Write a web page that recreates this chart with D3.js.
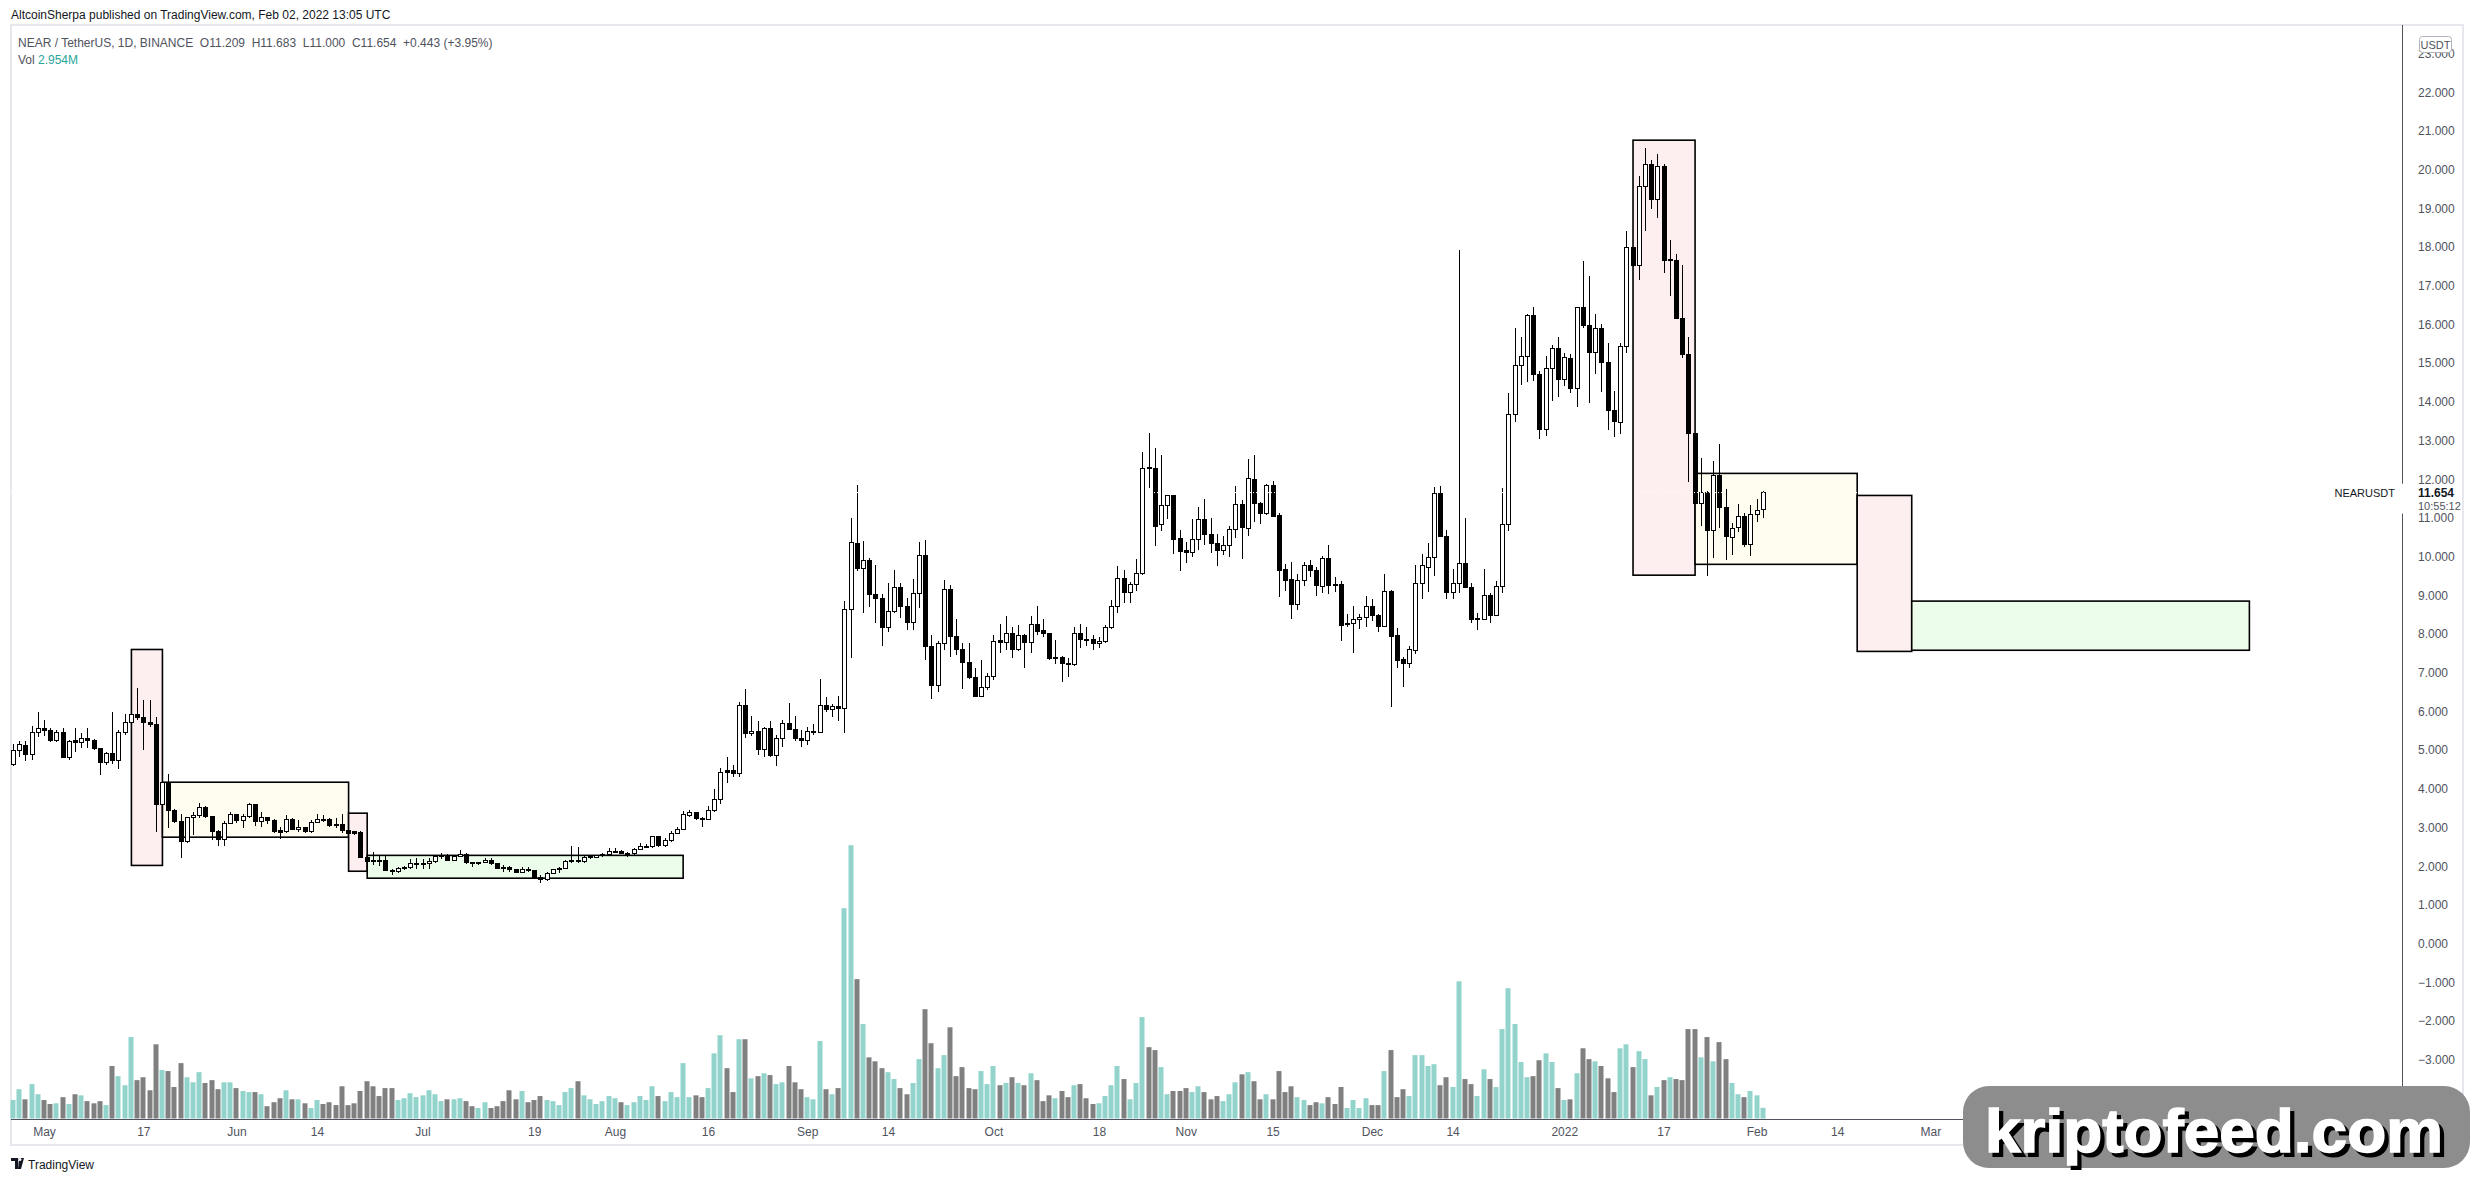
<!DOCTYPE html>
<html>
<head>
<meta charset="utf-8">
<script src="https://cdn.jsdelivr.net/npm/d3@7"></script>
<style>
  body { margin: 0; background: #fff; }
  text { font-family: "Liberation Sans", Arial, sans-serif; }
</style>
</head>
<body>
<div id="main"></div>
<script>
const ctx = {
    SVG_W: 2474,
    SVG_H: 1181,
    PLOT_L: 11,
    PLOT_R: 2402,
    AXIS_Y: 1119,
    FRAME_B: 1145,
    DAY_PX: 6.205,
};

// first daily candle, NEAR/USDT Binance
const startDate = "2021-04-26";

// daily candles [open, high, low, close]
const ohlc = [
  [4.64,5.17,4.60,5.00],[5.00,5.23,4.81,5.15],[5.12,5.23,4.73,4.89],[4.89,5.61,4.74,5.46],[5.46,5.98,5.35,5.55],
  [5.55,5.78,5.37,5.50],[5.50,5.56,5.20,5.24],[5.24,5.52,5.22,5.46],[5.46,5.56,4.81,4.81],[4.81,5.26,4.74,5.22],
  [5.24,5.56,4.96,5.19],[5.20,5.43,5.05,5.30],[5.30,5.56,5.05,5.24],[5.24,5.29,5.00,5.04],[5.04,5.06,4.36,4.68],
  [4.68,4.96,4.61,4.92],[4.92,5.98,4.64,4.73],[4.73,5.52,4.51,5.46],[5.46,5.92,5.40,5.72],[5.72,5.95,5.70,5.93],
  [5.93,6.60,5.78,5.84],[5.84,6.29,5.00,5.71],[5.72,6.29,5.60,5.67],[5.67,5.85,2.89,3.60],[3.60,4.18,3.55,4.16],
  [4.16,4.37,3.00,3.43],[3.43,3.49,3.12,3.15],[3.15,3.36,2.22,2.63],[2.63,3.28,2.61,3.26],[3.26,3.39,2.81,3.30],
  [3.30,3.64,3.24,3.52],[3.52,3.55,3.24,3.28],[3.28,3.30,2.68,2.89],[2.89,2.94,2.53,2.69],[2.69,3.17,2.52,3.11],
  [3.11,3.41,3.09,3.34],[3.34,3.36,3.11,3.19],[3.19,3.36,3.00,3.28],[3.28,3.64,3.24,3.60],[3.60,3.62,3.04,3.15],
  [3.15,3.41,3.02,3.26],[3.26,3.28,3.09,3.17],[3.19,3.21,2.87,2.89],[2.91,3.02,2.69,2.87],[2.89,3.32,2.85,3.21],
  [3.21,3.24,2.93,2.95],[2.95,3.19,2.89,3.00],[3.00,3.02,2.87,2.89],[2.89,3.19,2.87,3.13],[3.13,3.34,3.11,3.21],
  [3.21,3.32,3.15,3.19],[3.21,3.24,3.02,3.05],[3.08,3.24,2.98,3.05],[3.08,3.34,2.87,2.92],[2.92,2.94,2.85,2.85],
  [2.89,2.91,2.80,2.85],[2.87,2.92,2.20,2.23],[2.23,2.37,2.09,2.12],[2.15,2.37,2.03,2.14],[2.16,2.26,2.01,2.12],
  [2.16,2.26,1.87,1.89],[1.90,1.94,1.76,1.87],[1.87,1.99,1.82,1.94],[1.94,2.00,1.90,1.97],[1.97,2.18,1.92,2.07],
  [2.06,2.20,1.94,2.07],[2.07,2.19,1.92,2.08],[2.06,2.20,1.94,2.12],[2.12,2.26,2.09,2.25],[2.25,2.33,2.18,2.27],
  [2.27,2.31,2.14,2.16],[2.16,2.29,2.14,2.26],[2.26,2.42,2.25,2.31],[2.31,2.33,2.05,2.10],[2.10,2.12,1.99,2.06],
  [2.08,2.12,2.03,2.09],[2.09,2.20,2.07,2.16],[2.16,2.20,2.03,2.06],[2.06,2.09,1.92,1.95],[1.97,2.03,1.86,1.95],
  [1.97,2.00,1.86,1.92],[1.92,1.94,1.82,1.84],[1.84,1.97,1.82,1.92],[1.92,1.97,1.85,1.89],[1.89,1.90,1.67,1.69],
  [1.71,1.77,1.56,1.66],[1.66,1.86,1.63,1.82],[1.82,1.94,1.79,1.92],[1.92,1.97,1.83,1.94],[1.94,2.15,1.92,2.12],
  [2.13,2.52,2.09,2.14],[2.16,2.50,2.07,2.13],[2.12,2.29,2.09,2.23],[2.23,2.29,2.18,2.24],[2.22,2.29,2.20,2.27],
  [2.27,2.35,2.23,2.30],[2.30,2.46,2.28,2.38],[2.37,2.47,2.33,2.38],[2.39,2.42,2.31,2.33],[2.33,2.37,2.25,2.34],
  [2.33,2.48,2.29,2.44],[2.44,2.59,2.42,2.50],[2.50,2.57,2.46,2.51],[2.51,2.78,2.48,2.76],[2.76,2.78,2.50,2.53],
  [2.53,2.72,2.50,2.66],[2.66,2.92,2.63,2.85],[2.85,3.02,2.83,2.95],[2.95,3.43,2.93,3.34],[3.32,3.45,3.28,3.39],
  [3.39,3.41,3.20,3.22],[3.24,3.26,3.02,3.21],[3.21,3.55,3.19,3.45],[3.45,3.99,3.41,3.73],[3.73,4.55,3.62,4.43],
  [4.46,4.83,4.16,4.43],[4.48,4.61,4.31,4.40],[4.40,6.23,4.31,6.15],[6.15,6.58,5.32,5.43],[5.43,5.88,5.37,5.47],
  [5.47,5.75,4.87,5.02],[5.02,5.59,4.81,5.56],[5.56,5.75,4.81,4.86],[4.86,5.39,4.60,5.30],[5.30,5.78,5.07,5.69],
  [5.69,6.22,5.52,5.54],[5.54,5.88,5.24,5.30],[5.30,5.52,5.09,5.24],[5.24,5.59,5.13,5.47],[5.45,5.67,5.39,5.49],
  [5.45,6.85,5.43,6.15],[6.15,6.37,5.99,6.05],[6.05,6.18,5.86,6.12],[6.12,6.41,5.74,6.08],[6.08,8.84,5.45,8.64],
  [8.64,11.01,7.37,10.36],[10.34,11.85,9.63,9.70],[9.70,10.40,8.55,9.90],[9.90,9.96,8.71,9.02],[9.02,9.78,8.29,8.92],
  [8.92,9.03,7.70,8.17],[8.17,9.31,8.06,8.58],[8.58,9.65,8.53,9.20],[9.20,9.33,8.41,8.70],[8.70,8.92,8.10,8.30],
  [8.30,9.42,8.10,9.05],[9.05,10.37,8.66,10.03],[10.03,10.42,7.33,7.67],[7.67,7.97,6.32,6.67],[6.67,7.82,6.51,7.76],
  [7.76,9.40,7.59,9.15],[9.15,9.27,7.41,7.93],[7.93,8.40,7.46,7.60],[7.59,7.76,6.59,7.26],[7.27,7.76,6.85,6.87],
  [6.88,7.11,6.36,6.38],[6.38,7.33,6.36,6.62],[6.62,6.98,6.55,6.90],[6.90,7.97,6.81,7.81],[7.82,8.26,7.52,7.79],
  [7.79,8.47,7.59,8.02],[8.02,8.17,7.39,7.60],[7.60,8.23,7.57,7.97],[7.97,8.00,7.13,7.78],[7.78,8.47,7.50,8.25],
  [8.25,8.72,7.97,8.06],[8.08,8.40,7.91,8.02],[8.02,8.03,7.33,7.37],[7.36,7.85,7.22,7.40],[7.40,7.42,6.77,7.24],
  [7.24,7.37,6.90,7.22],[7.22,8.19,7.18,8.02],[8.02,8.26,7.63,7.85],[7.85,8.17,7.69,7.84],[7.85,7.97,7.59,7.76],
  [7.76,7.91,7.63,7.81],[7.81,8.23,7.76,8.17],[8.17,8.88,8.12,8.71],[8.71,9.76,8.55,9.44],[9.44,9.65,8.81,9.07],
  [9.07,9.35,8.81,9.29],[9.29,9.93,9.12,9.57],[9.57,12.69,9.52,12.28],[12.30,13.19,11.76,12.27],[12.28,12.80,10.27,10.79],
  [10.83,12.63,10.65,11.33],[11.33,11.59,10.97,11.57],[11.57,11.59,10.08,10.45],[10.47,10.69,9.64,10.13],[10.15,10.39,9.83,10.11],
  [10.11,10.97,10.00,10.43],[10.43,11.27,10.17,10.95],[10.95,11.49,10.30,10.56],[10.58,10.99,10.10,10.34],[10.34,10.58,9.77,10.15],
  [10.15,10.53,10.04,10.29],[10.29,10.79,10.00,10.69],[10.69,11.82,10.47,11.35],[11.35,11.46,9.93,10.75],[10.73,12.52,10.53,12.02],
  [12.00,12.63,10.90,11.38],[11.38,11.42,10.83,11.12],[11.12,11.87,11.08,11.84],[11.84,11.95,11.02,11.03],[11.05,11.12,8.96,9.64],
  [9.66,9.81,9.12,9.38],[9.40,9.85,8.39,8.77],[8.77,9.55,8.62,9.38],[9.38,9.86,9.25,9.77],[9.77,9.91,9.48,9.64],
  [9.64,9.72,8.99,9.25],[9.22,10.01,9.07,9.95],[9.95,10.30,9.03,9.25],[9.27,9.46,9.09,9.26],[9.27,9.37,7.83,8.23],
  [8.24,8.51,8.17,8.27],[8.27,8.72,7.52,8.38],[8.38,8.52,8.12,8.42],[8.42,8.98,8.19,8.72],[8.72,8.90,8.34,8.47],
  [8.49,8.52,8.06,8.19],[8.19,9.55,8.19,9.11],[9.11,9.14,6.12,7.93],[7.95,8.15,7.11,7.31],[7.33,7.41,6.64,7.24],
  [7.24,7.69,7.11,7.59],[7.57,9.78,7.48,9.31],[9.31,10.07,8.90,9.76],[9.72,10.36,9.09,9.97],[9.97,11.81,9.51,11.62],
  [11.62,11.82,10.52,10.53],[10.53,10.69,8.90,9.07],[9.07,9.67,8.90,9.31],[9.31,17.92,9.05,9.83],[9.83,10.99,9.20,9.20],
  [9.21,9.31,8.28,8.38],[8.38,8.53,8.10,8.39],[8.38,9.67,8.35,8.99],[8.99,9.07,8.28,8.47],[8.47,9.37,8.47,9.24],
  [9.24,11.78,9.07,10.82],[10.82,14.24,10.67,13.68],[13.68,15.90,13.49,14.93],[14.93,15.67,14.43,15.18],[15.18,16.27,14.50,16.22],
  [16.24,16.44,14.55,14.71],[14.71,14.80,13.03,13.29],[13.29,15.19,13.12,14.86],[14.86,15.48,14.03,15.38],[15.38,15.67,14.13,14.58],
  [14.58,15.27,14.42,15.15],[15.12,15.24,14.22,14.35],[14.35,16.44,13.87,16.44],[16.44,17.64,15.90,15.97],[15.98,17.25,13.98,15.27],
  [15.27,16.27,14.72,15.90],[15.90,16.01,14.26,15.01],[15.02,15.51,13.27,13.77],[13.77,14.28,13.08,13.49],[13.46,15.51,13.17,15.44],
  [15.44,18.41,15.27,17.99],[17.99,17.99,17.49,17.52],[17.52,19.83,17.15,19.56],[19.56,20.55,18.42,20.14],[20.14,20.25,18.97,19.23],
  [19.23,20.40,18.74,20.09],[20.09,20.14,17.34,17.65],[17.65,18.18,16.74,17.67],[17.66,17.82,16.14,16.16],[16.16,17.53,15.14,15.23],
  [15.23,15.67,11.92,13.19],[13.19,13.19,11.38,11.38],[11.38,12.54,10.80,11.65],[11.65,11.70,9.51,10.67],[10.67,12.47,9.97,12.09],
  [12.09,12.91,10.73,11.27],[11.27,11.74,9.91,10.52],[10.50,10.86,10.04,10.73],[10.76,11.36,10.64,11.03],[11.03,11.12,10.26,10.30],
  [10.30,11.33,10.02,11.09],[11.09,11.50,10.90,11.18],[11.209,11.683,11.000,11.654]
];

// daily volume, millions of NEAR
const volumes = [
  5.1,8.1,5.3,9.5,6.7,5.1,4.0,4.2,5.9,4.0, 6.7,6.4,4.8,4.2,4.8,3.7,14.5,11.7,9.2,22.5,
  10.6,11.4,7.8,20.5,13.4,13.1,8.7,15.3,11.4,10.0, 12.8,9.8,10.6,8.1,10.0,10.0,8.4,7.6,7.3,7.3,
  6.7,3.4,4.5,5.6,7.8,5.3,5.3,4.2,2.9,5.1, 4.0,4.5,3.7,8.9,3.7,4.2,7.6,10.3,8.9,6.2,
  8.4,8.4,5.1,5.6,7.0,5.9,6.4,7.8,6.7,4.8, 5.3,5.3,5.6,4.8,3.4,2.9,4.5,2.9,3.4,4.8,
  7.8,5.3,7.6,4.5,5.1,6.2,5.1,4.8,3.7,7.3, 8.4,10.3,6.4,5.3,4.0,4.8,6.2,5.6,4.5,3.7,
  4.5,6.2,5.1,8.9,6.2,4.8,7.3,5.9,15.3,5.9, 6.4,5.9,8.4,18.0,23.0,13.9,7.3,21.9,21.9,11.1,
  11.7,12.5,12.0,9.5,10.0,14.5,10.0,8.1,5.9,5.3, 21.4,8.1,6.7,8.4,58.1,75.5,38.5,26.1,16.9,15.8,
  13.9,12.8,10.9,8.4,6.7,9.8,16.4,30.2,20.8,13.9, 17.5,25.2,11.7,14.2,8.4,8.1,13.1,9.5,14.5,9.2,
  9.8,11.4,9.8,9.2,12.5,10.6,4.8,6.4,5.6,7.6, 5.9,9.2,9.5,5.6,4.0,4.2,6.2,9.2,14.5,10.9,
  5.3,9.8,28.0,19.7,18.9,14.2,6.7,7.6,7.6,8.4, 7.3,8.9,7.3,5.3,6.2,4.8,6.7,10.0,12.2,12.8,
  10.3,5.3,6.7,5.3,13.1,7.3,8.9,5.9,5.1,3.7, 4.5,4.2,5.9,4.0,8.7,2.9,5.1,2.9,5.6,3.7,
  3.7,13.1,18.9,5.9,8.1,6.2,17.5,17.5,14.5,15.0, 9.2,11.4,8.7,37.9,10.9,9.5,6.2,13.6,10.9,8.7,
  24.7,36.0,26.1,15.6,11.4,11.7,16.1,18.0,15.6,8.4, 5.1,5.3,12.5,19.4,16.4,15.8,14.5,11.1,7.3,19.4,
  20.5,14.2,18.6,16.4,6.4,8.7,10.6,11.4,10.9,10.6, 24.7,24.7,16.9,22.5,15.8,21.1,16.4,9.8,6.7,5.9,
  7.6,6.4,2.954
];

// price scale labels
const priceTicks = [23,22,21,20,19,18,17,16,15,14,13,12,11,10,9,8,7,6,5,4,3,2,1,0,-1,-2,-3,-4];

// time scale labels
const timeTicks = [
  ["2021-05-01","May"],["2021-05-17","17"],["2021-06-01","Jun"],["2021-06-14","14"],
  ["2021-07-01","Jul"],["2021-07-19","19"],["2021-08-01","Aug"],["2021-08-16","16"],
  ["2021-09-01","Sep"],["2021-09-14","14"],["2021-10-01","Oct"],["2021-10-18","18"],
  ["2021-11-01","Nov"],["2021-11-15","15"],["2021-12-01","Dec"],["2021-12-14","14"],
  ["2022-01-01","2022"],["2022-01-17","17"],["2022-02-01","Feb"],["2022-02-14","14"],
  ["2022-03-01","Mar"],["2022-04-01","Apr"],["2022-05-01","May"]
];

// drawn zones: [from, to, top price, bottom price, fill]
const zones = [
  ["2021-05-15T02:00","2021-05-20T02:00",7.60,2.02,"#fdeeef"],
  ["2021-05-20T02:00","2021-06-19T02:00",4.17,2.75,"#fffdf0"],
  ["2021-06-19T02:00","2021-06-22T02:00",3.37,1.87,"#fdeeef"],
  ["2021-06-22T02:00","2021-08-12T00:00",2.28,1.69,"#ecfdeb"],
  ["2022-01-12T02:00","2022-01-22T02:00",20.76,9.52,"#fdeeef"],
  ["2022-01-22T02:00","2022-02-17T05:00",12.15,9.80,"#fffdf0"],
  ["2022-02-17T05:00","2022-02-26T00:00",11.58,7.55,"#fdeeef"],
  ["2022-02-26T00:00","2022-04-21T10:00",8.85,7.58,"#ecfdeb"]
];

const lastPrice = 11.654;

function drawChart(svgEl) {
    const t0 = d3.utcParse("%Y-%m-%d")(startDate);
    const tEnd = d3.utcDay.offset(t0, 370);
    const parseT = d3.utcParse("%Y-%m-%dT%H:%M");
    const parseD = d3.utcParse("%Y-%m-%d");

    const x = d3.scaleUtc()
        .domain([t0, tEnd])
        .range([13, 13 + 370 * ctx.DAY_PX]);
    const y = d3.scaleLinear().domain([0, 23]).range([943.6, 53.5]);
    const yVol = d3.scaleLinear().domain([0, 80]).range([1118.5, 828.9]);

    const candles = ohlc.map((r, i) => ({
        date: d3.utcDay.offset(t0, i),
        o: r[0], h: r[1], l: r[2], c: r[3],
        v: volumes[i]
    }));

    // chart frame
    svgEl.append("rect")
        .attr("x", ctx.PLOT_L).attr("y", 25)
        .attr("width", 2463 - ctx.PLOT_L).attr("height", ctx.FRAME_B - 25)
        .attr("fill", "none").attr("stroke", "#e6e8ee").attr("stroke-width", 2);

    // zones
    svgEl.selectAll(".zone")
        .data(zones)
        .enter().append("rect")
        .attr("class", "zone")
        .attr("x", d => x(parseT(d[0])))
        .attr("y", d => y(d[2]))
        .attr("width", d => x(parseT(d[1])) - x(parseT(d[0])))
        .attr("height", d => y(d[3]) - y(d[2]))
        .attr("fill", d => d[4])
        .attr("stroke", "#000")
        .attr("stroke-width", 1.6);

    // volume
    svgEl.selectAll(".vol")
        .data(candles)
        .enter().append("rect")
        .attr("class", "vol")
        .attr("x", d => Math.round(x(d.date)) - 2.5)
        .attr("y", d => yVol(d.v))
        .attr("width", 5)
        .attr("height", d => yVol(0) - yVol(d.v))
        .attr("fill", d => d.c >= d.o ? "#92d3cc" : "#808080");

    // candles
    const g = svgEl.append("g").attr("shape-rendering", "crispEdges");
    g.selectAll(".wick")
        .data(candles)
        .enter().append("line")
        .attr("class", "wick")
        .attr("x1", d => Math.round(x(d.date)) + 0.5)
        .attr("x2", d => Math.round(x(d.date)) + 0.5)
        .attr("y1", d => y(d.h))
        .attr("y2", d => y(d.l))
        .attr("stroke", "#000");
    g.selectAll(".body")
        .data(candles)
        .enter().append("rect")
        .attr("class", "body")
        .attr("x", d => Math.round(x(d.date)) - 1.5)
        .attr("y", d => y(Math.max(d.o, d.c)))
        .attr("width", 4)
        .attr("height", d => Math.max(1, Math.abs(y(d.o) - y(d.c))))
        .attr("fill", d => d.c >= d.o ? "#fff" : "#000")
        .attr("stroke", "#000");

    // last price dotted line
    svgEl.append("line")
        .attr("x1", ctx.PLOT_L).attr("x2", ctx.PLOT_R)
        .attr("y1", y(lastPrice)).attr("y2", y(lastPrice))
        .attr("stroke", "#fff").attr("stroke-dasharray", "1,2");

    // price axis
    svgEl.append("line")
        .attr("x1", ctx.PLOT_R + 0.5).attr("x2", ctx.PLOT_R + 0.5)
        .attr("y1", 25).attr("y2", ctx.FRAME_B)
        .attr("stroke", "#50535e");
    const yAxis = d3.axisRight(y)
        .tickValues(priceTicks)
        .tickFormat(d3.format(".3f"))
        .tickSize(0).tickPadding(16);
    const ya = svgEl.append("g")
        .attr("transform", `translate(${ctx.PLOT_R},0)`)
        .call(yAxis);
    ya.select(".domain").remove();
    ya.selectAll("text")
        .attr("fill", "#50535e")
        .style("font-size", "12px")
        .style("font-family", "'Liberation Sans', Arial, sans-serif");

    // last price label
    const yl = y(lastPrice);
    svgEl.append("rect")
        .attr("x", 2340).attr("y", yl - 9)
        .attr("width", 68).attr("height", 30)
        .attr("fill", "#fff");
    svgEl.append("text")
        .attr("x", 2395).attr("y", yl + 4)
        .attr("text-anchor", "end")
        .attr("fill", "#131722").style("font-size", "11px")
        .text("NEARUSDT");
    svgEl.append("text")
        .attr("x", 2418).attr("y", yl + 4)
        .attr("fill", "#131722").style("font-size", "12px").style("font-weight", "bold")
        .text(d3.format(".3f")(lastPrice));
    svgEl.append("text")
        .attr("x", 2418).attr("y", yl + 17)
        .attr("fill", "#50535e").style("font-size", "11px")
        .text("10:55:12");

    // currency tag
    svgEl.append("rect")
        .attr("x", 2419.5).attr("y", 36.5)
        .attr("width", 32).attr("height", 16).attr("rx", 3)
        .attr("fill", "#fff").attr("stroke", "#b2b5be");
    svgEl.append("text")
        .attr("x", 2435.5).attr("y", 48.5)
        .attr("text-anchor", "middle")
        .attr("fill", "#50535e").style("font-size", "11px")
        .text("USDT");

    // time axis
    svgEl.append("line")
        .attr("x1", ctx.PLOT_L).attr("x2", 2463)
        .attr("y1", ctx.AXIS_Y + 0.5).attr("y2", ctx.AXIS_Y + 0.5)
        .attr("stroke", "#50535e");
    const tickMap = new Map(timeTicks.map(d => [+parseD(d[0]), d[1]]));
    const xAxis = d3.axisBottom(x)
        .tickValues(timeTicks.map(d => parseD(d[0])))
        .tickFormat(d => tickMap.get(+d))
        .tickSize(0).tickPadding(8);
    const xa = svgEl.append("g")
        .attr("transform", `translate(0,${ctx.AXIS_Y})`)
        .call(xAxis);
    xa.select(".domain").remove();
    xa.selectAll("text")
        .attr("fill", "#50535e")
        .style("font-size", "12px")
        .style("font-family", "'Liberation Sans', Arial, sans-serif");

    // header texts
    svgEl.append("text")
        .attr("x", 11).attr("y", 19)
        .attr("fill", "#131722").style("font-size", "12px")
        .text("AltcoinSherpa published on TradingView.com, Feb 02, 2022 13:05 UTC");
    svgEl.append("text")
        .attr("x", 18).attr("y", 47)
        .attr("fill", "#50535e").style("font-size", "12px")
        .attr("xml:space", "preserve")
        .text("NEAR / TetherUS, 1D, BINANCE  O11.209  H11.683  L11.000  C11.654  +0.443 (+3.95%)");
    const vt = svgEl.append("text")
        .attr("x", 18).attr("y", 64)
        .attr("fill", "#50535e").style("font-size", "12px");
    vt.append("tspan").text("Vol ");
    vt.append("tspan").attr("fill", "#26a69a").text("2.954M");

    // TradingView footer
    const logo = svgEl.append("g").attr("transform", "translate(11,1158)");
    logo.append("path").attr("d", "M0,0 H7 V11 H4 V3 H0 Z").attr("fill", "#131722");
    logo.append("path").attr("d", "M8,0 H13 L10,11 H7 Z M9,0 a1.5,1.5 0 1 0 0.01,0").attr("fill", "#131722");
    svgEl.append("text")
        .attr("x", 28).attr("y", 1169)
        .attr("fill", "#131722").style("font-size", "12px")
        .text("TradingView");

    // watermark
    const wm = svgEl.append("g");
    wm.append("rect")
        .attr("x", 1963).attr("y", 1086)
        .attr("width", 507).attr("height", 82).attr("rx", 26)
        .attr("fill", "#8d8d8d");
    wm.append("text")
        .attr("x", 1989).attr("y", 1156)
        .attr("textLength", 458).attr("lengthAdjust", "spacingAndGlyphs")
        .attr("fill", "#000").attr("stroke", "#000").attr("stroke-width", 2)
        .style("font-size", "62px").style("font-weight", "bold")
        .text("kriptofeed.com");
    wm.append("text")
        .attr("x", 1985).attr("y", 1152)
        .attr("textLength", 458).attr("lengthAdjust", "spacingAndGlyphs")
        .attr("fill", "#fff").attr("stroke", "#fff").attr("stroke-width", 1.5)
        .style("font-size", "62px").style("font-weight", "bold")
        .text("kriptofeed.com");
}

function createViz() {
    let svgEl = d3.select("#main").append("svg");
    svgEl.attr("width", ctx.SVG_W);
    svgEl.attr("height", ctx.SVG_H);
    svgEl.append("rect").attr("width", ctx.SVG_W).attr("height", ctx.SVG_H).attr("fill", "#fff");
    drawChart(svgEl);
}

createViz();
</script>
</body>
</html>
